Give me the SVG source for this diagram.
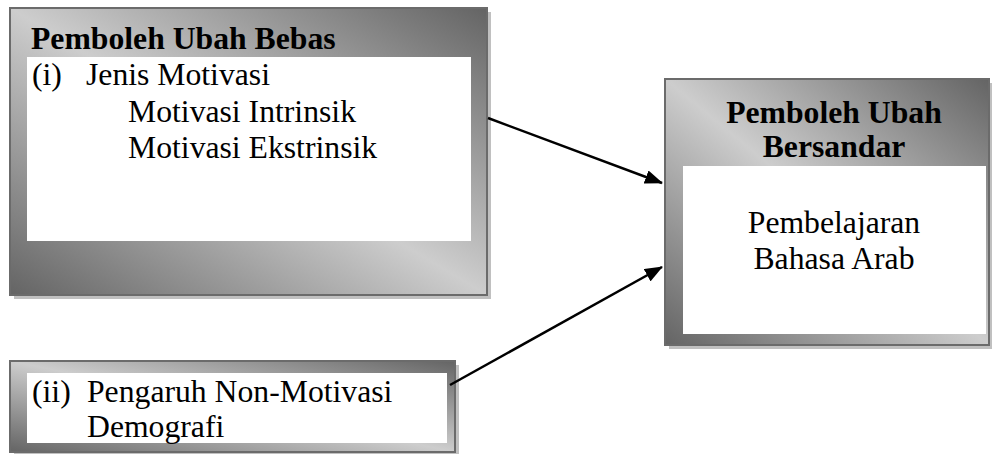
<svg xmlns="http://www.w3.org/2000/svg" width="992" height="454" viewBox="0 0 992 454">
  <style>
    .shadow { fill: #c0c0c0; }
    .frame { fill: url(#g); stroke: #6b6b6b; stroke-width: 2; }
    .inner { fill: #ffffff; }
    text { font-family: "Liberation Serif", "Times New Roman", serif; font-size: 31.7px; fill: #000; }
    .b { font-weight: bold; }
    .c { text-anchor: middle; }
    .conn { stroke: #000; stroke-width: 2.5; fill: none; marker-end: url(#arrow); }
  </style>
  <defs>
    <linearGradient id="g" x1="0" y1="1" x2="1" y2="0">
      <stop offset="0" stop-color="#646464"/>
      <stop offset="0.5" stop-color="#cdcdcd"/>
      <stop offset="1" stop-color="#646464"/>
    </linearGradient>
    <marker id="arrow" viewBox="0 0 18 14" refX="17" refY="7" markerWidth="18" markerHeight="14" markerUnits="userSpaceOnUse" orient="auto">
      <path d="M0,0 L18,7 L0,14 z" fill="#000"/>
    </marker>
  </defs>

  <g id="node-bebas">
    <rect class="shadow" x="14" y="12" width="477" height="287"/>
    <rect class="frame" x="10" y="8" width="477" height="287"/>
    <rect class="inner" x="27" y="57" width="444" height="184"/>
    <text class="b" x="31" y="49">Pemboleh Ubah Bebas</text>
    <text x="32" y="85">(i)</text>
    <text x="86" y="85">Jenis Motivasi</text>
    <text x="128" y="122">Motivasi Intrinsik</text>
    <text x="128" y="158">Motivasi Ekstrinsik</text>
  </g>

  <g id="node-bersandar">
    <rect class="shadow" x="669" y="83" width="324" height="266"/>
    <rect class="frame" x="665" y="79" width="324" height="266"/>
    <rect class="inner" x="683" y="166" width="303" height="168"/>
    <text class="b c" x="834" y="123">Pemboleh Ubah</text>
    <text class="b c" x="834" y="157">Bersandar</text>
    <text class="c" x="834" y="233">Pembelajaran</text>
    <text class="c" x="834" y="269">Bahasa Arab</text>
  </g>

  <g id="node-nonmotivasi">
    <rect class="shadow" x="14" y="365" width="445" height="91"/>
    <rect class="frame" x="10" y="361" width="445" height="91"/>
    <rect class="inner" x="27" y="373" width="420" height="70"/>
    <text x="32" y="402">(ii)</text>
    <text x="87" y="402">Pengaruh Non-Motivasi</text>
    <text x="87" y="437">Demografi</text>
  </g>

  <g id="connectors">
    <line class="conn" x1="488" y1="118" x2="662" y2="183"/>
    <line class="conn" x1="450" y1="385" x2="662" y2="267"/>
  </g>
</svg>
